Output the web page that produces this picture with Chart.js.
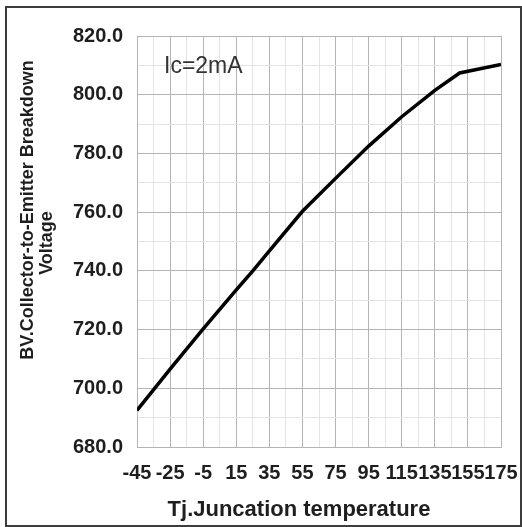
<!DOCTYPE html>
<html>
<head>
<meta charset="utf-8">
<script src="https://cdn.jsdelivr.net/npm/chart.js@4.4.1/dist/chart.umd.min.js"></script>
<style>
  body { margin: 0; background: #fff; }
  #frame { position: absolute; left: 5px; top: 6px; width: 513px; height: 517px; border: 2px solid #3c3c3c; }
  #wrap { position: absolute; left: 0; top: 0; width: 522px; height: 527px; }
</style>
</head>
<body>
<div id="frame"></div>
<div id="wrap"><canvas id="bvChart" width="522" height="527"></canvas></div>
<script>
// junction temperature (°C) and breakdown voltage (V)
const temps = [-45, -25, -5, 15, 25, 35, 55, 75, 95, 115, 135, 150, 175];
const bvValues = [692.5, 706.5, 720.2, 733.5, 740.0, 746.8, 760.3, 771.5, 782.5, 792.5, 801.5, 807.4, 810.3];

// labelled ticks (grid has a lighter line halfway between each)
const xTickLabels = [-45, -25, -5, 15, 35, 55, 75, 95, 115, 135, 155, 175];
const yTickLabels = [680, 700, 720, 740, 760, 780, 800, 820];

const xTitle = "Tj.Juncation temperature";
const yTitle = ["BV.Collector-to-Emitter Breakdown", "Voltage"];
const noteText = "Ic=2mA";

const fontFamily = "'Liberation Sans', Arial, sans-serif";

// draws the axis titles and the Ic note
const textPlugin = {
  id: "textPlugin",
  afterDraw(chart) {
    const ctx = chart.ctx;
    const area = chart.chartArea;
    ctx.save();
    ctx.fillStyle = "#1e1e1e";
    ctx.textAlign = "center";
    ctx.textBaseline = "middle";

    // x title
    ctx.font = "bold 22px " + fontFamily;
    ctx.fillText(xTitle, area.left + (area.right - area.left) / 2 - 20, 510);

    // y title, two rotated lines
    ctx.font = "bold 18px " + fontFamily;
    ctx.save();
    ctx.translate(28, 210);
    ctx.rotate(-Math.PI / 2);
    ctx.fillText(yTitle[0], 0, 0);
    ctx.restore();
    ctx.save();
    ctx.translate(47, 243);
    ctx.rotate(-Math.PI / 2);
    ctx.fillText(yTitle[1], 0, 0);
    ctx.restore();

    // note in the top left of the plot
    ctx.font = "23px " + fontFamily;
    ctx.fillStyle = "#333";
    ctx.textAlign = "left";
    ctx.fillText(noteText, area.left + 27, 67);
    ctx.restore();
  },
};

function gridColor(labels) {
  return (c) => (labels.includes(c.tick.value) ? "#b4b4b4" : "#e4e4e4");
}

const ctx = document.getElementById("bvChart").getContext("2d");
new Chart(ctx, {
  type: "line",
  data: {
    datasets: [
      {
        label: "BV",
        data: temps.map((t, i) => ({ x: t, y: bvValues[i] })),
        borderColor: "#000",
        borderWidth: 3.5,
        pointRadius: 0,
        tension: 0,
        fill: false,
      },
    ],
  },
  options: {
    responsive: false,
    animation: false,
    layout: { padding: { top: 36, right: 21, left: 0, bottom: 0 } },
    plugins: {
      legend: { display: false },
      tooltip: { enabled: false },
    },
    scales: {
      x: {
        type: "linear",
        min: -45,
        max: 175,
        afterFit: (s) => {
          s.height = 80;
          s.paddingLeft = 0;
          s.paddingRight = 0;
        },
        grid: { color: gridColor(xTickLabels), lineWidth: 1, drawTicks: false },
        border: { display: true, color: "#b4b4b4" },
        ticks: {
          stepSize: 10,
          autoSkip: false,
          maxRotation: 0,
          padding: 14,
          color: "#1e1e1e",
          font: { family: fontFamily, size: 20, weight: "bold" },
          callback: (v) => (xTickLabels.includes(v) ? String(v) : ""),
        },
      },
      y: {
        min: 680,
        max: 820,
        afterFit: (s) => { s.width = 137; },
        grid: { color: gridColor(yTickLabels), lineWidth: 1, drawTicks: false },
        border: { display: true, color: "#b4b4b4" },
        ticks: {
          stepSize: 10,
          autoSkip: false,
          padding: 14,
          color: "#1e1e1e",
          font: { family: fontFamily, size: 20, weight: "bold" },
          callback: (v) => (yTickLabels.includes(v) ? v.toFixed(1) : ""),
        },
      },
    },
  },
  plugins: [textPlugin],
});
</script>
</body>
</html>
